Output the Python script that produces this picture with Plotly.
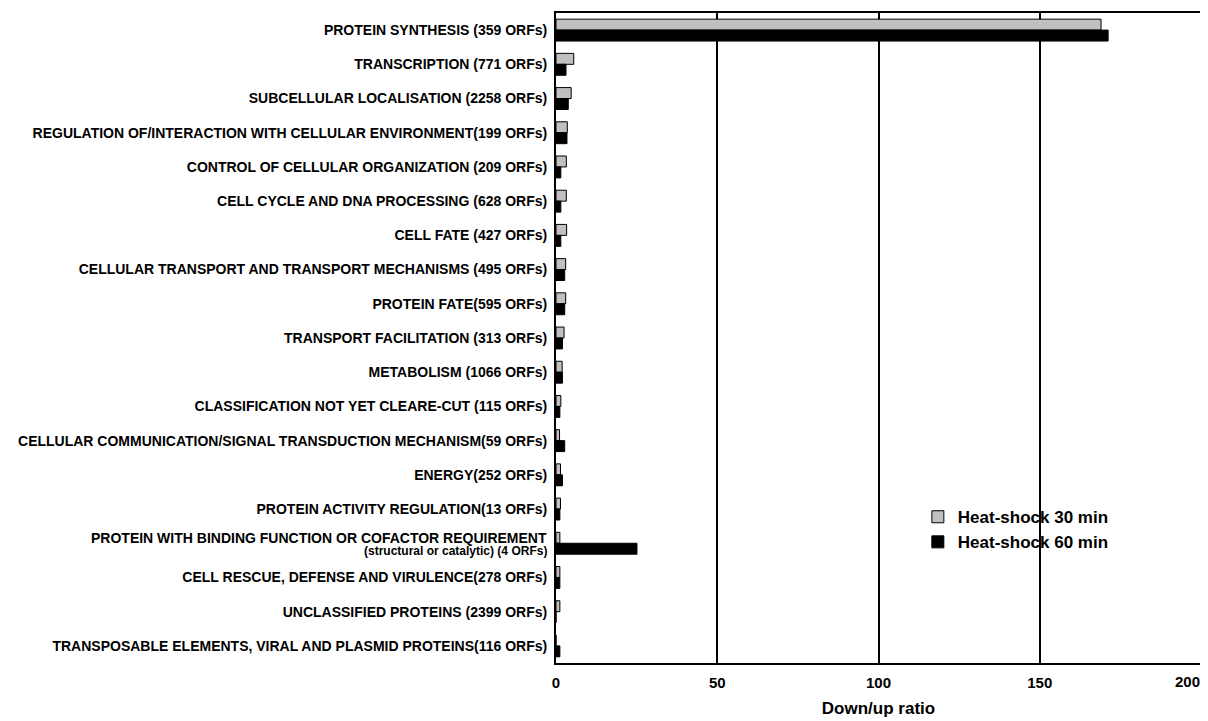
import plotly.graph_objects as go

categories = [
    "PROTEIN SYNTHESIS (359 ORFs)",
    "TRANSCRIPTION (771 ORFs)",
    "SUBCELLULAR LOCALISATION (2258 ORFs)",
    "REGULATION OF/INTERACTION WITH CELLULAR ENVIRONMENT(199 ORFs)",
    "CONTROL OF CELLULAR ORGANIZATION (209 ORFs)",
    "CELL CYCLE AND DNA PROCESSING (628 ORFs)",
    "CELL FATE (427 ORFs)",
    "CELLULAR TRANSPORT AND TRANSPORT MECHANISMS (495 ORFs)",
    "PROTEIN FATE(595 ORFs)",
    "TRANSPORT FACILITATION (313 ORFs)",
    "METABOLISM (1066 ORFs)",
    "CLASSIFICATION NOT YET CLEARE-CUT (115 ORFs)",
    "CELLULAR COMMUNICATION/SIGNAL TRANSDUCTION MECHANISM(59 ORFs)",
    "ENERGY(252 ORFs)",
    "PROTEIN ACTIVITY REGULATION(13 ORFs)",
    "PROTEIN WITH BINDING FUNCTION OR COFACTOR REQUIREMENT<br>(structural or catalytic) (4 ORFs)",
    "CELL RESCUE, DEFENSE AND VIRULENCE(278 ORFs)",
    "UNCLASSIFIED PROTEINS (2399 ORFs)",
    "TRANSPOSABLE ELEMENTS, VIRAL AND PLASMID PROTEINS(116 ORFs)",
]

hs30 = [169.0, 5.5, 4.7, 3.5, 3.2, 3.2, 3.3, 3.0, 3.0, 2.5, 1.9, 1.5, 1.1, 1.4, 1.4, 1.2, 1.2, 1.2, 0.0]
hs60 = [171.2, 3.1, 3.8, 3.4, 1.5, 1.5, 1.5, 2.7, 2.7, 2.0, 2.0, 1.2, 2.7, 2.0, 1.2, 25.1, 1.2, 0.0, 1.2]

xticks = [0, 50, 100, 150, 200]

font_family = "Liberation Sans, Arial, sans-serif"

fig = go.Figure()
fig.add_trace(go.Bar(
    y=categories, x=hs30, orientation="h", name="Heat-shock 30 min",
    marker=dict(color="#c0c0c0", line=dict(color="black", width=1)),
))
fig.add_trace(go.Bar(
    y=categories, x=hs60, orientation="h", name="Heat-shock 60 min",
    marker=dict(color="black", line=dict(color="black", width=1)),
))

fig.update_layout(
    width=1200, height=713,
    margin=dict(l=548, r=7, t=3, b=58),
    paper_bgcolor="white", plot_bgcolor="white",
    barmode="group", bargap=0.36, bargroupgap=0.0,
    font=dict(family=font_family, color="black"),
    showlegend=True,
    legend=dict(
        x=0.561, y=0.252, xanchor="left", yanchor="top",
        font=dict(size=17, family=font_family, weight="bold"),
        bgcolor="rgba(0,0,0,0)", tracegroupgap=0,
    ),
)

fig.update_xaxes(
    range=[0, 200], tickvals=xticks[:-1], ticktext=[str(t) for t in xticks[:-1]],
    showgrid=True, gridcolor="black", gridwidth=1.5,
    showline=True, linecolor="black", linewidth=2, mirror=True,
    ticks="", zeroline=False, ticklabelstandoff=5,
    tickfont=dict(size=15, family=font_family, weight="bold"),
    title=dict(text="Down/up ratio", font=dict(size=17, family=font_family, weight="bold"), standoff=12),
)

# two-line labels are drawn as annotations; single-line ones as tick text
tick_text = ["" if "<br>" in c else c for c in categories]
fig.update_yaxes(
    autorange="reversed", showgrid=False,
    showline=True, linecolor="black", linewidth=2, mirror=True,
    ticks="", ticklabelstandoff=4,
    tickvals=categories, ticktext=tick_text,
    tickfont=dict(size=14, family=font_family, weight="bold"),
)

for c in categories:
    if "<br>" in c:
        first, second = c.split("<br>")
        fig.add_annotation(
            x=0, xref="x", y=c, yref="y", xanchor="right", yanchor="middle",
            text=first, showarrow=False, xshift=-7, yshift=5,
            font=dict(size=14, family=font_family, weight="bold", color="black"),
        )
        fig.add_annotation(
            x=0, xref="x", y=c, yref="y", xanchor="right", yanchor="middle",
            text=second, showarrow=False, xshift=-7, yshift=-8,
            font=dict(size=12, family=font_family, weight="bold", color="black"),
        )

# last tick label sits inside the right edge, as in the reference
fig.add_annotation(
    x=xticks[-1], xref="x", y=0, yref="paper", yanchor="top", xanchor="right",
    text=str(xticks[-1]), showarrow=False, yshift=-8, xshift=1,
    font=dict(size=15, family=font_family, weight="bold", color="black"),
)

fig.write_html("out.html")
